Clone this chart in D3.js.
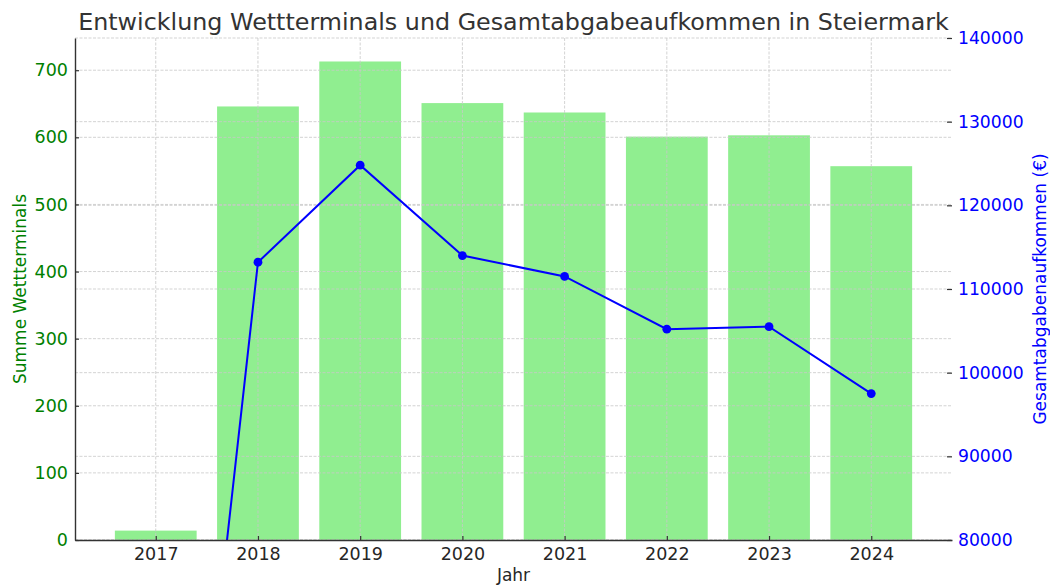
<!DOCTYPE html>
<html>
<head>
<meta charset="utf-8">
<script src="https://cdn.jsdelivr.net/npm/d3@7"></script>
<style>
  body { margin: 0; background: #fff; }
  svg, svg text { font-family: "DejaVu Sans", sans-serif; }
</style>
</head>
<body>
<div id="chart"></div>
<script>
// Data
const years = ["2017", "2018", "2019", "2020", "2021", "2022", "2023", "2024"];
const terminals = [14, 646, 713, 651, 637, 601, 603, 557];
const revenue = [3500, 113200, 124800, 114000, 111500, 105200, 105500, 97500];
const leftTicks = [0, 100, 200, 300, 400, 500, 600, 700];
const rightTicks = [80000, 90000, 100000, 110000, 120000, 130000, 140000];

const width = 1050;
const height = 585;
const margin = { top: 38, right: 98, bottom: 45, left: 75 };
const plotW = width - margin.left - margin.right;
const plotH = height - margin.top - margin.bottom;
const fontFam = "DejaVu Sans, sans-serif";

const svg = d3.select("#chart").append("svg")
  .attr("width", width)
  .attr("height", height);

const g = svg.append("g")
  .attr("transform", `translate(${margin.left},${margin.top})`);

// x as index, matplotlib-like margins around the bars
const x = d3.scaleLinear().domain([-0.79, years.length - 1 + 0.79]).range([0, plotW]);
const barW = x(0.8) - x(0);
const yLeft = d3.scaleLinear().domain([0, 748]).range([plotH, 0]);
const yRight = d3.scaleLinear().domain([80000, 140000]).range([plotH, 0]);

g.append("defs").append("clipPath").attr("id", "plot-clip")
  .append("rect").attr("width", plotW).attr("height", plotH);

// Bars
g.append("g")
  .selectAll("rect")
  .data(terminals)
  .enter().append("rect")
  .attr("x", (d, i) => x(i) - barW / 2)
  .attr("y", d => yLeft(d))
  .attr("width", barW)
  .attr("height", d => plotH - yLeft(d))
  .attr("fill", "#90ee90");

// Grid lines (drawn over the bars)
const gridStyle = sel => sel
  .attr("stroke", "#c8c8c8")
  .attr("stroke-width", 0.8)
  .attr("stroke-dasharray", "3,1.5");

g.append("g").selectAll("line")
  .data(years)
  .enter().append("line")
  .attr("x1", (d, i) => x(i)).attr("x2", (d, i) => x(i))
  .attr("y1", 0).attr("y2", plotH)
  .call(gridStyle);

g.append("g").selectAll("line")
  .data(leftTicks)
  .enter().append("line")
  .attr("x1", 0).attr("x2", plotW)
  .attr("y1", d => yLeft(d)).attr("y2", d => yLeft(d))
  .call(gridStyle);

g.append("g").selectAll("line")
  .data(rightTicks)
  .enter().append("line")
  .attr("x1", 0).attr("x2", plotW)
  .attr("y1", d => yRight(d)).attr("y2", d => yRight(d))
  .call(gridStyle);

// Line
const line = d3.line()
  .x((d, i) => x(i))
  .y(d => yRight(d));

const lineG = g.append("g").attr("clip-path", "url(#plot-clip)");
lineG.append("path")
  .datum(revenue)
  .attr("d", line)
  .attr("fill", "none")
  .attr("stroke", "#0000ff")
  .attr("stroke-width", 2);

lineG.selectAll("circle")
  .data(revenue)
  .enter().append("circle")
  .attr("cx", (d, i) => x(i))
  .attr("cy", d => yRight(d))
  .attr("r", 4.4)
  .attr("fill", "#0000ff");

// Axes
const xAxis = d3.axisBottom(x)
  .tickValues(d3.range(years.length))
  .tickFormat(i => years[i])
  .tickSizeInner(-4).tickSizeOuter(0).tickPadding(8);

const xa = g.append("g")
  .attr("transform", `translate(0,${plotH})`)
  .call(xAxis);
xa.selectAll("text").attr("font-size", 17.5).attr("fill", "#262626").attr("dy", "0.71em");

const leftAxis = d3.axisLeft(yLeft)
  .tickValues(leftTicks)
  .tickSizeInner(-4).tickSizeOuter(0).tickPadding(7);
const la = g.append("g").call(leftAxis);
la.selectAll("text").attr("font-size", 17.5).attr("fill", "#008000");

const rightAxis = d3.axisRight(yRight)
  .tickValues(rightTicks)
  .tickFormat(d3.format("d"))
  .tickSizeInner(-5).tickSizeOuter(0).tickPadding(6);
const ra = g.append("g")
  .attr("transform", `translate(${plotW},0)`)
  .call(rightAxis);
ra.selectAll("text").attr("font-size", 17.2).attr("fill", "#0000ff");
ra.select(".domain").remove();

[xa, la, ra].forEach(a => {
  a.attr("font-family", fontFam);
  a.selectAll(".tick line").attr("stroke", "#333").attr("stroke-width", 1.2);
  a.select(".domain").attr("stroke", "#333").attr("stroke-width", 1.4);
});

// Labels
svg.append("text")
  .attr("x", margin.left + plotW / 2)
  .attr("y", 30)
  .attr("text-anchor", "middle")
  .attr("font-size", 23.8)
  .attr("fill", "#333")
  .text("Entwicklung Wettterminals und Gesamtabgabeaufkommen in Steiermark");

svg.append("text")
  .attr("x", margin.left + plotW / 2)
  .attr("y", 581)
  .attr("text-anchor", "middle")
  .attr("font-size", 17)
  .attr("fill", "#262626")
  .text("Jahr");

svg.append("text")
  .attr("transform", `translate(26,${margin.top + plotH / 2}) rotate(-90)`)
  .attr("text-anchor", "middle")
  .attr("font-size", 17)
  .attr("fill", "#008000")
  .text("Summe Wettterminals");

svg.append("text")
  .attr("transform", `translate(1046,${margin.top + plotH / 2}) rotate(-90)`)
  .attr("text-anchor", "middle")
  .attr("font-size", 17)
  .attr("fill", "#0000ff")
  .text("Gesamtabgabenaufkommen (€)");
</script>
</body>
</html>
